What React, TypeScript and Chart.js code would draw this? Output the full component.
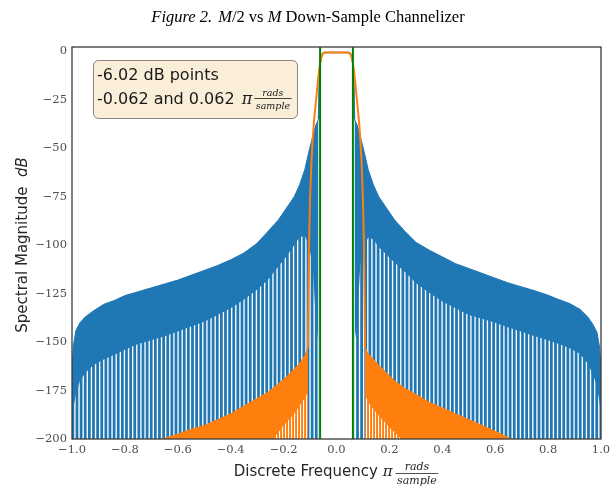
import React, { useEffect, useRef } from 'react';
import { Chart, registerables } from 'chart.js';

Chart.register(...registerables);

// ---------- data ----------
const xTicks = [-1, -0.8, -0.6, -0.4, -0.2, 0, 0.2, 0.4, 0.6, 0.8, 1];
const yTicks = [-200, -175, -150, -125, -100, -75, -50, -25, 0];

// blue (M/2) channelizer: side-lobe envelope and depth where the nulls start to separate
const blueFreqL = [-1.0, -0.995, -0.985, -0.97, -0.95, -0.92, -0.88, -0.84, -0.8, -0.75, -0.7, -0.65, -0.6, -0.55, -0.5, -0.45, -0.4, -0.35, -0.3, -0.26, -0.22, -0.19, -0.16, -0.14, -0.12, -0.105, -0.09, -0.078, -0.068];
const blueUpperL = [-165, -152, -144, -140, -137, -134, -130.5, -128.5, -126, -124, -122, -120, -118, -115.5, -113, -110.5, -107.5, -104, -99, -93, -87, -81, -75, -69, -61, -52, -44, -38, -35];
const blueStripeL = [-190, -184, -177, -170, -166, -162, -159, -156.5, -154, -151, -149, -147, -144.5, -142, -139.5, -136, -132.5, -128, -123, -118, -111, -106, -100, -96, -95, -100, -110, -140, -150];

const blueFreqR = [0.068, 0.078, 0.09, 0.105, 0.12, 0.14, 0.16, 0.19, 0.22, 0.26, 0.3, 0.35, 0.4, 0.45, 0.5, 0.55, 0.6, 0.65, 0.7, 0.75, 0.8, 0.84, 0.88, 0.92, 0.95, 0.97, 0.985, 0.995, 1.0];
const blueUpperR = [-35, -38, -44, -52, -61, -69, -75, -81, -87, -93, -98.5, -102.5, -106, -109.5, -112, -114.5, -117, -119.5, -121.5, -123.5, -125.8, -128, -130, -133, -137, -141, -145, -153, -165];
const blueStripeR = [-150, -140, -110, -100, -96, -97, -101, -105, -109, -114, -119.5, -124.5, -129, -132.5, -136, -138, -140, -142.5, -144.7, -147, -149, -151, -153, -156, -161, -167, -173, -182, -190];

const blueLobeFreq = [-0.068, -0.065, -0.062, -0.058, -0.054, -0.05, -0.045, 0.045, 0.05, 0.054, 0.058, 0.062, 0.065, 0.068];
const blueLobeDb = [-35, -12, -6, -3, -1.4, -0.7, -0.5, -0.5, -0.7, -1.4, -3, -6, -12, -35];

// orange (M) channelizer
const orangeFreqL = [-0.66, -0.6, -0.55, -0.5, -0.45, -0.4, -0.35, -0.3, -0.26, -0.22, -0.19, -0.16, -0.14, -0.12, -0.108];
const orangeUpperL = [-200, -197.5, -195, -193, -190, -187, -183, -179, -176, -171.5, -168, -164, -161, -157, -153];
const orangeFreqR = [0.108, 0.12, 0.14, 0.16, 0.19, 0.22, 0.26, 0.3, 0.35, 0.4, 0.45, 0.5, 0.55, 0.6, 0.66];
const orangeUpperR = [-153, -156, -159, -162, -166, -170, -174, -177, -181, -184, -187, -190, -193, -196, -200];

const orangeStripeFreqL = [-0.24, -0.2, -0.16, -0.13, -0.108];
const orangeStripeL = [-200, -193, -187, -181, -176];
const orangeStripeFreqR = [0.108, 0.13, 0.16, 0.2, 0.245];
const orangeStripeR = [-178, -183, -188, -194, -200];

const orangeLobeFreq = [-0.108, -0.106, -0.103, -0.1, -0.095, -0.09, -0.085, -0.08, -0.075, -0.07, -0.066, -0.062, -0.058, -0.054, -0.05, -0.045, 0.045, 0.05, 0.054, 0.058, 0.062, 0.066, 0.07, 0.075, 0.08, 0.085, 0.09, 0.095, 0.1, 0.103, 0.106, 0.108];
const orangeLobeDb = [-153, -125, -95, -76, -58, -45, -36, -29, -22, -15, -10, -6, -3.5, -1.8, -1, -0.6, -0.6, -1, -1.8, -3.5, -6, -10, -15, -22, -29, -36, -45, -58, -76, -95, -125, -153];

// -6.02 dB points
const cutoffFreq = [-0.062, 0.062];
const cutoffDb = -6.02;

// ---------- styles ----------
const BLUE = '#1f77b4';
const ORANGE = '#ff7f0e';
const GREEN = '#008000';
const Y_MIN = -200;
const Y_MAX = 2.3;
const SANS = '"DejaVu Sans", sans-serif';
const SERIF = '"DejaVu Serif", serif';
const TIMES = '"Liberation Serif", "Times New Roman", serif';

const pts = (xs: number[], ys: number[]) => xs.map((x, i) => ({ x, y: ys[i] }));
const minus = (s: string) => s.replace('-', '\u2212');

function stripePattern(ctx: CanvasRenderingContext2D, period: number, n: number, stripeW: number, color: string) {
  const c = document.createElement('canvas');
  c.width = Math.round(period * n);
  c.height = 4;
  const g = c.getContext('2d')!;
  g.fillStyle = color;
  for (let i = 0; i < n; i++) g.fillRect((i * c.width) / n, 0, stripeW, 4);
  return ctx.createPattern(c, 'repeat')!;
}

type Run = { text?: string; font: string; color?: string; frac?: [string, string]; gap?: number; fracCfg?: { num: number; bar: number; den: number } };

function runWidth(ctx: CanvasRenderingContext2D, r: Run) {
  ctx.font = r.font;
  if (r.frac) return Math.max(ctx.measureText(r.frac[0]).width, ctx.measureText(r.frac[1]).width) + 3;
  return ctx.measureText(r.text || '').width;
}

function drawRuns(ctx: CanvasRenderingContext2D, runs: Run[], x: number, y: number, align: 'left' | 'center') {
  const widths = runs.map((r) => runWidth(ctx, r) + (r.gap || 0));
  const total = widths.reduce((a, b) => a + b, 0);
  let cx = align === 'center' ? x - total / 2 : x;
  ctx.textBaseline = 'alphabetic';
  runs.forEach((r, i) => {
    ctx.font = r.font;
    ctx.fillStyle = r.color || '#262626';
    const w = widths[i] - (r.gap || 0);
    if (r.frac) {
      const cfg = r.fracCfg!;
      ctx.textAlign = 'center';
      ctx.fillText(r.frac[0], cx + w / 2, y + cfg.num);
      ctx.fillText(r.frac[1], cx + w / 2, y + cfg.den);
      ctx.fillRect(cx, y + cfg.bar - 0.4, w, 0.8);
      ctx.textAlign = 'left';
    } else {
      ctx.textAlign = 'left';
      ctx.fillText(r.text || '', cx, y);
    }
    cx += widths[i];
  });
}

const decorPlugin = {
  id: 'decor',
  afterDraw(chart: any) {
    const ctx: CanvasRenderingContext2D = chart.ctx;
    const a = chart.chartArea;
    ctx.save();
    // spines
    ctx.strokeStyle = '#3a3a3a';
    ctx.lineWidth = 1.3;
    ctx.strokeRect(a.left, a.top, a.right - a.left, a.bottom - a.top);

    // title
    drawRuns(
      ctx,
      [
        { text: 'Figure 2.', font: `italic 16.5px ${TIMES}`, color: '#000', gap: 6 },
        { text: 'M', font: `italic 16.5px ${TIMES}`, color: '#000' },
        { text: '/2', font: `16.5px ${TIMES}`, color: '#000' },
        { text: ' vs ', font: `16.5px ${TIMES}`, color: '#000' },
        { text: 'M', font: `italic 16.5px ${TIMES}`, color: '#000' },
        { text: ' Down-Sample Channelizer', font: `16.5px ${TIMES}`, color: '#000' },
      ],
      308,
      22,
      'center'
    );

    // annotation box
    const bx = 93.5, by = 60.5, bw = 204, bh = 58;
    ctx.beginPath();
    ctx.roundRect(bx, by, bw, bh, 5);
    ctx.fillStyle = 'rgba(245,222,179,0.5)';
    ctx.fill();
    ctx.strokeStyle = 'rgba(0,0,0,0.45)';
    ctx.lineWidth = 1;
    ctx.stroke();
    drawRuns(ctx, [{ text: `${cutoffDb.toFixed(2)} dB points`, font: `16px ${SANS}`, color: '#1a1a1a' }], 97, 80, 'left');
    drawRuns(
      ctx,
      [
        { text: `${cutoffFreq[0].toFixed(3)} and ${cutoffFreq[1].toFixed(3)} `, font: `16px ${SANS}`, color: '#1a1a1a', gap: 2 },
        { text: '\u03c0', font: `italic 16px ${SERIF}`, color: '#1a1a1a', gap: 2 },
        { frac: ['rads', 'sample'], font: `italic 9.5px ${SERIF}`, color: '#1a1a1a', fracCfg: { num: -8.5, bar: -5.5, den: 4.5 } },
      ],
      97,
      104,
      'left'
    );

    // x axis label
    drawRuns(
      ctx,
      [
        { text: 'Discrete Frequency ', font: `15px ${SANS}`, color: '#262626' },
        { text: '\u03c0', font: `italic 15px ${SERIF}`, color: '#262626', gap: 3 },
        { frac: ['rads', 'sample'], font: `italic 11px ${SERIF}`, color: '#262626', fracCfg: { num: -6, bar: -2.5, den: 7.5 } },
      ],
      336,
      476,
      'center'
    );

    // y axis label
    ctx.translate(27, 245);
    ctx.rotate(-Math.PI / 2);
    drawRuns(
      ctx,
      [
        { text: 'Spectral Magnitude  ', font: `15px ${SANS}`, color: '#262626' },
        { text: 'dB', font: `italic 15px ${SANS}`, color: '#262626' },
      ],
      0,
      0,
      'center'
    );
    ctx.restore();
  },
};

export default function App() {
  const ref = useRef<HTMLCanvasElement>(null);
  useEffect(() => {
    document.body.style.margin = '0';
    const canvas = ref.current!;
    const ctx = canvas.getContext('2d')!;
    const whiteStripes = stripePattern(ctx, 4.125, 8, 1.35, '#ffffff');
    const whiteStripesO = stripePattern(ctx, 3.0, 11, 1.1, '#ffffff');
    const none = 'rgba(0,0,0,0)';

    const fillSet = (data: any[], color: any, order: number, border: string) => ({
      data,
      borderColor: border,
      borderWidth: 1,
      backgroundColor: color,
      fill: 'start',
      pointRadius: 0,
      order,
    });

    const datasets: any[] = [
      fillSet(pts(blueFreqL, blueUpperL), BLUE, 10, BLUE),
      fillSet(pts(blueFreqR, blueUpperR), BLUE, 10, BLUE),
      fillSet(pts(blueFreqL, blueStripeL), whiteStripes, 9, none),
      fillSet(pts(blueFreqR, blueStripeR), whiteStripes, 9, none),
      fillSet(pts(orangeFreqL, orangeUpperL), ORANGE, 8, ORANGE),
      fillSet(pts(orangeFreqR, orangeUpperR), ORANGE, 8, ORANGE),
      fillSet(pts(orangeStripeFreqL, orangeStripeL), whiteStripesO, 7, none),
      fillSet(pts(orangeStripeFreqR, orangeStripeR), whiteStripesO, 7, none),
      { data: pts(blueLobeFreq, blueLobeDb), borderColor: BLUE, borderWidth: 1.5, fill: false, pointRadius: 0, order: 6 },
      { data: pts(orangeLobeFreq, orangeLobeDb), borderColor: ORANGE, borderWidth: 2, fill: false, pointRadius: 0, order: 5 },
      ...cutoffFreq.map((f) => ({
        data: [{ x: f, y: Y_MIN }, { x: f, y: Y_MAX }],
        borderColor: GREEN,
        borderWidth: 2,
        fill: false,
        pointRadius: 0,
        order: 4,
      })),
    ];

    const tickFont = { family: SERIF, size: 11.5 };
    const chart = new Chart(ctx, {
      type: 'line',
      data: { datasets },
      options: {
        animation: false,
        responsive: false,
        maintainAspectRatio: false,
        layout: { padding: { top: 47, right: 15, left: 0, bottom: 0 } },
        elements: { line: { tension: 0 }, point: { radius: 0 } },
        plugins: { legend: { display: false }, tooltip: { enabled: false }, title: { display: false } },
        scales: {
          x: {
            type: 'linear',
            min: -1,
            max: 1,
            grid: { display: false, drawTicks: false },
            border: { display: false },
            afterBuildTicks: (s: any) => {
              s.ticks = xTicks.map((v) => ({ value: v }));
            },
            afterFit: (s: any) => {
              s.height = 48;
            },
            ticks: {
              font: tickFont,
              color: '#4d4d4d',
              padding: 4,
              maxRotation: 0,
              autoSkip: false,
              callback: (v: any) => minus(Number(v).toFixed(1)),
            },
          },
          y: {
            type: 'linear',
            min: Y_MIN,
            max: Y_MAX,
            grid: { display: false, drawTicks: false },
            border: { display: false },
            afterBuildTicks: (s: any) => {
              s.ticks = yTicks.map((v) => ({ value: v }));
            },
            afterFit: (s: any) => {
              s.width = 72;
            },
            ticks: {
              font: tickFont,
              color: '#4d4d4d',
              padding: 5,
              autoSkip: false,
              callback: (v: any) => minus(String(Number(v))),
            },
          },
        },
      },
      plugins: [decorPlugin],
    } as any);
    return () => chart.destroy();
  }, []);

  return (
    <div style={{ width: 616, height: 487, background: '#fff' }}>
      <canvas ref={ref} width={616} height={487} style={{ display: 'block', width: 616, height: 487 }} />
    </div>
  );
}
